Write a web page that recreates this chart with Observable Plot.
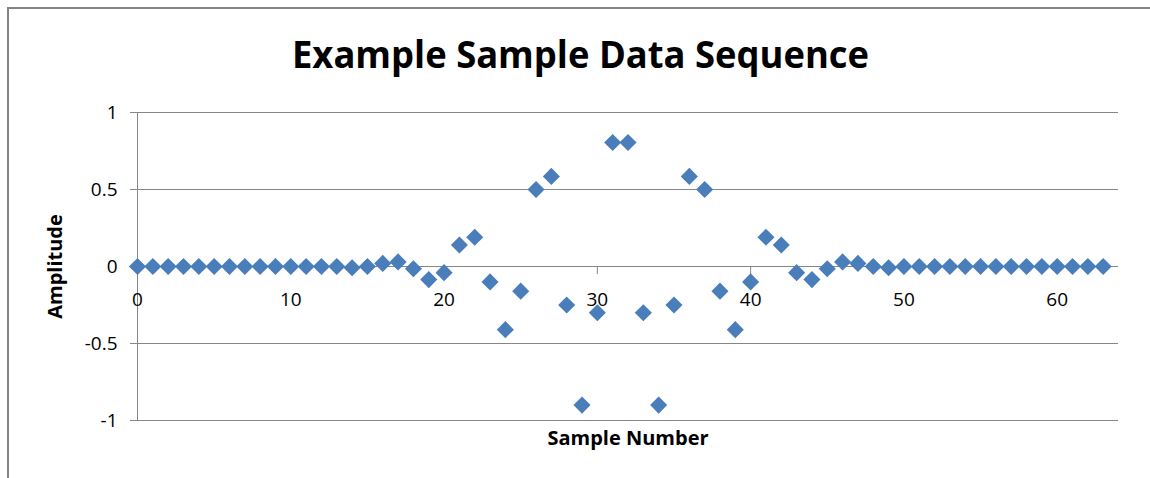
<!DOCTYPE html>
<html>
<head>
<meta charset="utf-8">
<script src="https://cdn.jsdelivr.net/npm/d3@7"></script>
<script src="https://cdn.jsdelivr.net/npm/@observablehq/plot@0.6"></script>
<style>
  html, body { margin: 0; padding: 0; background: #fff; }
  #wrap { position: relative; width: 1150px; height: 478px; overflow: hidden; font-family: "Open Sans", sans-serif; }
  #border { position: absolute; left: 7px; top: 7px; width: 1200px; height: 600px; border-top: 2px solid #848484; border-left: 2px solid #848484; }
  #title { position: absolute; top: 35px; left: 0; width: 1161px; text-align: center; font-size: 37px; line-height: 1; font-weight: bold; color: #000; white-space: nowrap; }
  #title span { display: inline-block; transform-origin: 50% 50%; }
  #chart { position: absolute; left: 0; top: 0; }
</style>
</head>
<body>
<div id="wrap">
  <div id="border"></div>
  <div id="title"><span>Example Sample Data Sequence</span></div>
  <div id="chart"></div>
</div>
<script>
// Data
const amplitude = [
  0, 0, 0, 0, 0, 0, 0, 0, 0, 0, 0, 0, 0, 0, -0.008, 0,
  0.02, 0.03, -0.015, -0.085, -0.04, 0.14, 0.19, -0.10, -0.41, -0.16, 0.50, 0.585, -0.25, -0.90, -0.30, 0.805,
  0.805, -0.30, -0.90, -0.25, 0.585, 0.50, -0.16, -0.41, -0.10, 0.19, 0.14, -0.04, -0.085, -0.015, 0.03, 0.02,
  0, -0.008, 0, 0, 0, 0, 0, 0, 0, 0, 0, 0, 0, 0, 0, 0
];
const xTicks = [0, 10, 20, 30, 40, 50, 60];
const yTicks = [-1, -0.5, 0, 0.5, 1];
const titleText = "Example Sample Data Sequence";
const xLabel = "Sample Number";
const yLabel = "Amplitude";

const data = amplitude.map((a, i) => ({sample: i, amplitude: a}));

const grid = "#868686";

const chart = Plot.plot({
  width: 1150,
  height: 478,
  marginLeft: 137,
  marginRight: 32,
  marginTop: 112,
  marginBottom: 58,
  style: {fontFamily: "'Open Sans', sans-serif", fontSize: "19px", color: "#000", background: "transparent"},
  x: {domain: [0, 64], axis: null},
  y: {domain: [-1, 1], axis: null},
  marks: [
    Plot.ruleY(yTicks, {stroke: grid, strokeWidth: 1}),
    Plot.ruleX([0], {stroke: grid, strokeWidth: 1}),
    Plot.ruleY(yTicks, {x1: 0, x2: 0, insetLeft: -7, stroke: grid}),
    Plot.axisY({ticks: yTicks, tickSize: 0, tickPadding: 20, tickFormat: d => String(d), label: null, fill: "#000"}),
    Plot.ruleX(xTicks, {y1: 0, y2: 0, insetBottom: -8, stroke: grid}),
    Plot.text(xTicks, {x: d => d, y: () => 0, text: d => String(d), dy: 33, fill: "#000"}),
    Plot.dot(data, {x: "sample", y: "amplitude", symbol: "diamond2", r: 7.7, fill: "#4A7EBB", stroke: "none"}),
    Plot.text([xLabel], {frameAnchor: "bottom", textAnchor: "middle", dy: 24, fontWeight: "bold", fontSize: 20, fill: "#000"}),
    Plot.text([yLabel], {frameAnchor: "left", textAnchor: "middle", rotate: -90, dx: -82, fontWeight: "bold", fontSize: 20, fill: "#000"})
  ]
});
document.getElementById("chart").appendChild(chart);

// fit title width to reference width
const span = document.querySelector("#title span");
span.textContent = titleText;
const w = span.getBoundingClientRect().width;
span.style.transform = `scaleX(${577 / w})`;
</script>
</body>
</html>
